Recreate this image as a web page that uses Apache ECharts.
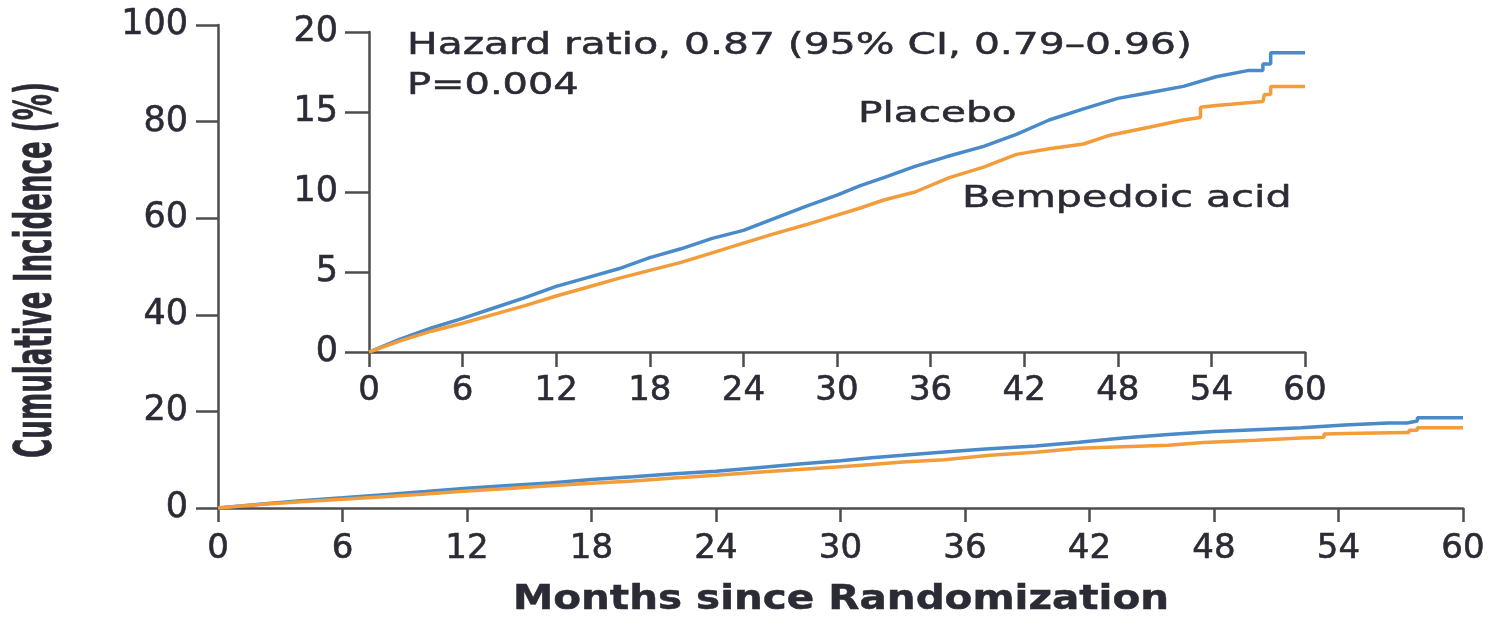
<!DOCTYPE html>
<html>
<head>
<meta charset="utf-8">
<style>
  html, body { margin: 0; padding: 0; background: #ffffff; }
  #chart { width: 1503px; height: 617px; }
</style>
<script src="https://cdn.jsdelivr.net/npm/echarts@6/dist/echarts.min.js"></script>
</head>
<body>
<div id="chart"></div>
<script>
// ---- Data ----
const placeboMonths = [0, 2, 4, 6, 8, 10, 12, 14, 16, 18, 20, 22, 24, 26, 28, 30, 31.5, 33, 35, 37, 39.4, 41.5, 43.6, 45.8, 48, 50, 52.2, 54.3, 56.4, 57.3, 57.3, 57.8, 57.8, 60];
const placeboPct    = [0, 0.8, 1.5, 2.1, 2.75, 3.4, 4.1, 4.65, 5.2, 5.9, 6.45, 7.1, 7.6, 8.35, 9.1, 9.8, 10.4, 10.9, 11.6, 12.2, 12.85, 13.6, 14.5, 15.2, 15.85, 16.2, 16.6, 17.2, 17.6, 17.6, 18.0, 18.0, 18.7, 18.7];

const bempedoicMonths = [0, 2, 4, 6, 8, 10, 12, 14, 16, 18, 20, 22, 24, 26, 28, 30, 31.5, 33, 35, 37.2, 39.4, 41.5, 43.6, 45.8, 47.5, 50, 52.2, 53.3, 53.3, 54.3, 57.3, 57.4, 57.4, 57.8, 57.8, 60];
const bempedoicPct    = [0, 0.7, 1.3, 1.8, 2.35, 2.9, 3.5, 4.05, 4.6, 5.1, 5.6, 6.2, 6.8, 7.4, 7.95, 8.55, 9.0, 9.5, 10.0, 10.9, 11.55, 12.35, 12.7, 13.0, 13.55, 14.05, 14.5, 14.65, 15.3, 15.4, 15.65, 15.65, 16.1, 16.1, 16.6, 16.6];

const xTicks = [0, 6, 12, 18, 24, 30, 36, 42, 48, 54, 60];
const mainYTicks = [0, 20, 40, 60, 80, 100];
const insetYTicks = [0, 5, 10, 15, 20];

const seriesNames = ['Placebo', 'Bempedoic acid'];
const annotationLine1 = 'Hazard ratio, 0.87 (95% CI, 0.79\u20130.96)';
const annotationLine2 = 'P=0.004';
const xTitle = 'Months since Randomization';
const yTitle = 'Cumulative Incidence (%)';

// ---- Styling ----
const BLUE = '#4A8AC9';
const ORANGE = '#F39C3A';
const AXIS = '#4d4d4d';
const TEXT = '#2b2b36';
const FONT = '"DejaVu Sans", sans-serif';

function pairs(xs, ys) { return xs.map((x, i) => [x, ys[i]]); }

function labelStyle(fontSize, margin, ticks) {
  return { color: TEXT, fontFamily: FONT, fontSize: fontSize, margin: margin,
           textBorderColor: TEXT, textBorderWidth: 0.6,
           formatter: v => ticks.indexOf(v) >= 0 ? String(v) : '' };
}
function xAxisDef(gridIndex, tickLen, margin) {
  return {
    type: 'value', gridIndex: gridIndex, min: 0, max: 60, interval: 6,
    axisLine: { show: true, onZero: false, lineStyle: { color: AXIS, width: 2.5 } },
    axisTick: { show: true, length: tickLen, lineStyle: { color: AXIS, width: 2.5 } },
    axisLabel: labelStyle(34, margin, xTicks),
    splitLine: { show: false }
  };
}
function yAxisDef(gridIndex, max, interval, ticks, tickLen, margin) {
  return {
    type: 'value', gridIndex: gridIndex, min: 0, max: max, interval: interval,
    axisLine: { show: true, onZero: false, lineStyle: { color: AXIS, width: 2.5 } },
    axisTick: { show: true, length: tickLen, lineStyle: { color: AXIS, width: 2.5 } },
    axisLabel: labelStyle(35, margin, ticks),
    splitLine: { show: false }
  };
}
function lineSeries(name, xi, yi, data, color, z) {
  return {
    name: name, type: 'line', xAxisIndex: xi, yAxisIndex: yi,
    data: data, symbol: 'none', smooth: false, z: z,
    lineStyle: { color: color, width: 3.5 }, itemStyle: { color: color },
    emphasis: { disabled: true }
  };
}
function txt(x, y, sx, sy, text, font, align, extra) {
  return Object.assign({ type: 'text', x: x, y: y, scaleX: sx, scaleY: sy,
    style: { text: text, fill: TEXT, stroke: TEXT, lineWidth: 0.5, font: font,
             textAlign: align, textVerticalAlign: 'middle' } }, extra || {});
}

const chart = echarts.init(document.getElementById('chart'), null, { renderer: 'canvas' });

const option = {
  animation: false,
  backgroundColor: '#ffffff',
  grid: [
    { left: 218, top: 25, width: 1245, height: 483, containLabel: false },
    { left: 369, top: 32, width: 936, height: 320, containLabel: false }
  ],
  xAxis: [ xAxisDef(0, 14, 24), xAxisDef(1, 15, 22) ],
  yAxis: [ yAxisDef(0, 100, 20, mainYTicks, 22, 30), yAxisDef(1, 20, 5, insetYTicks, 24, 31) ],
  series: [
    lineSeries(seriesNames[0], 0, 0, pairs(placeboMonths, placeboPct), BLUE, 3),
    lineSeries(seriesNames[1], 0, 0, pairs(bempedoicMonths, bempedoicPct), ORANGE, 4),
    lineSeries(seriesNames[0], 1, 1, pairs(placeboMonths, placeboPct), BLUE, 3),
    lineSeries(seriesNames[1], 1, 1, pairs(bempedoicMonths, bempedoicPct), ORANGE, 4)
  ],
  graphic: [
    txt(407, 46, 1.36, 1, annotationLine1, '30px ' + FONT, 'left'),
    txt(407, 86, 1.33, 1, annotationLine2, '30px ' + FONT, 'left'),
    txt(858, 114, 1.4, 1, seriesNames[0], '29px ' + FONT, 'left'),
    txt(962, 199, 1.375, 1, seriesNames[1], '30px ' + FONT, 'left'),
    txt(841, 600, 1.19, 1, xTitle, 'bold 34px ' + FONT, 'center'),
    txt(37, 270, 0.594, 1.185, yTitle, 'bold 44px ' + FONT, 'center', { rotation: Math.PI / 2 })
  ]
};
chart.setOption(option);
</script>
</body>
</html>
